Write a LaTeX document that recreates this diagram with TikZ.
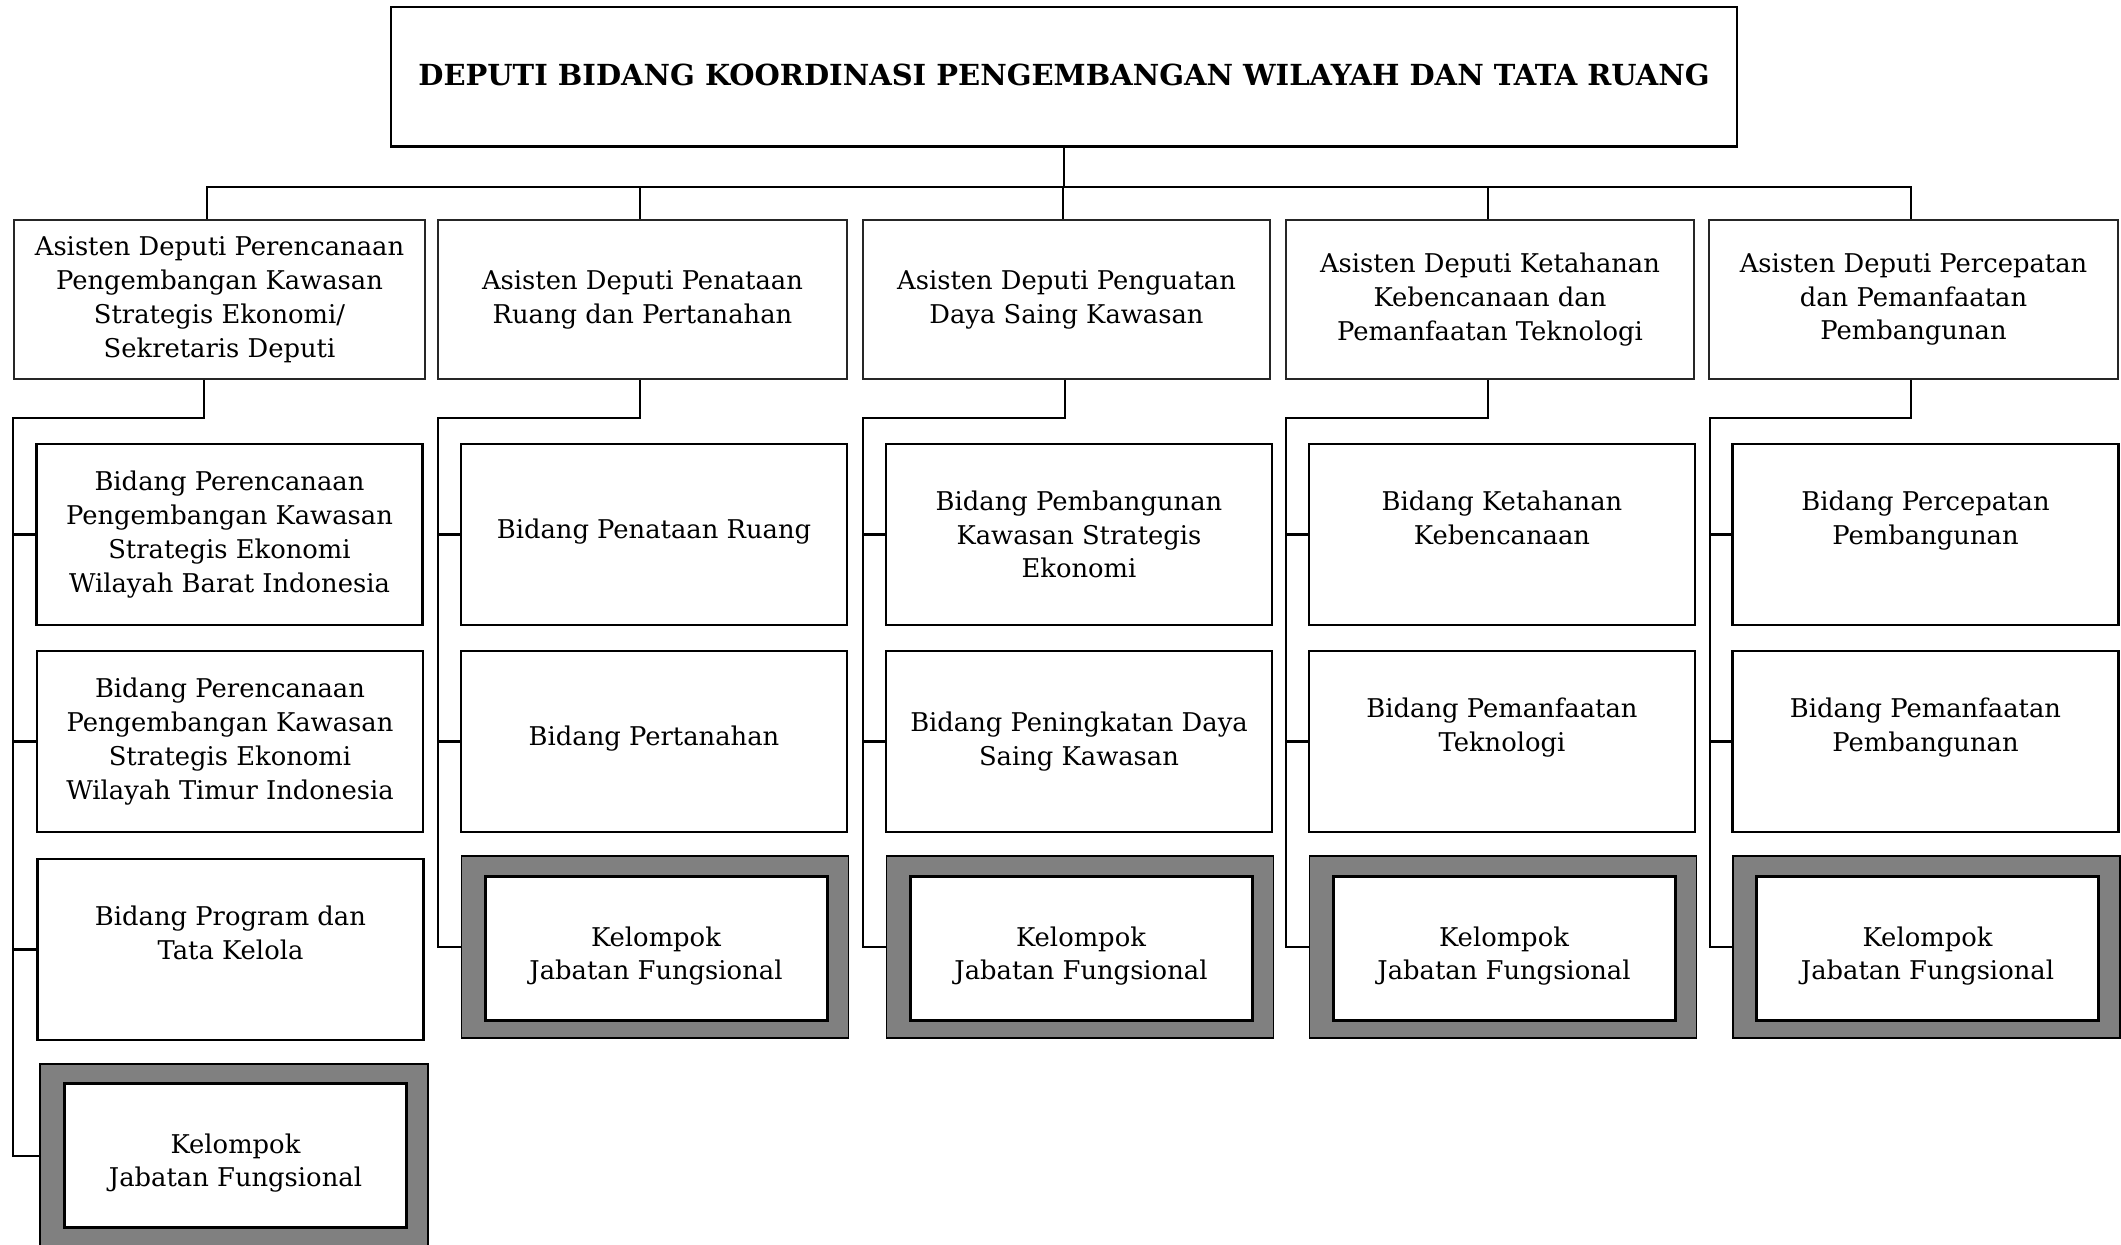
\documentclass[tikz,border=0pt]{standalone}
\usepackage{fontspec}
\setmainfont{DejaVu Serif}
\begin{document}
\begin{tikzpicture}[x=0.5pt,y=-0.5pt,
  conn/.style={line width=1.1pt},
  txt/.style={align=center, inner sep=0pt, font=\fontsize{12.9}{16.9}\selectfont},
  titlebox/.style={draw, line width=0.6pt, inner sep=0pt, minimum width=673pt, minimum height=69.5pt,
     font=\fontsize{14.5}{16}\selectfont\bfseries},
  asbox/.style={txt, draw=black!85, line width=0.8pt, minimum height=79.5pt},
  bdbox/.style={txt, draw, line width=1.4pt, minimum height=90.5pt, minimum width=193pt},
  kout/.style={draw, line width=0.8pt, fill=black!50, minimum height=91pt, minimum width=193.5pt},
  kin/.style={draw, fill=white, line width=1.5pt, minimum height=72pt, minimum width=171pt}
]
\useasboundingbox (0,0) rectangle (2121,1244);

% title
\node[titlebox] (top) at (1064,76.5) {\raisebox{2pt}{DEPUTI BIDANG KOORDINASI PENGEMBANGAN WILAYAH DAN TATA RUANG}};
\draw[line width=1.6pt] (top.south west) -- (top.south east);

% asisten deputi
\node[asbox, minimum width=205.5pt] (a1) at (219.5,299.5) {Asisten Deputi Perencanaan\\Pengembangan Kawasan\\Strategis Ekonomi/\\Sekretaris Deputi};
\node[asbox, minimum width=204.5pt] (a2) at (642.5,299.5) {Asisten Deputi Penataan\\Ruang dan Pertanahan};
\node[asbox, minimum width=203.5pt] (a3) at (1066.5,299.5) {Asisten Deputi Penguatan\\Daya Saing Kawasan};
\node[asbox, minimum width=204pt] (a4) at (1490,299.5) {Asisten Deputi Ketahanan\\Kebencanaan dan\\Pemanfaatan Teknologi};
\node[asbox, minimum width=204.5pt] (a5) at (1913.5,299.5) {Asisten Deputi Percepatan\\dan Pemanfaatan\\Pembangunan};

% column 1
\node[bdbox] (b11) at (229.5,534.5) {Bidang Perencanaan\\Pengembangan Kawasan\\Strategis Ekonomi\\Wilayah Barat Indonesia};
\node[bdbox] (b12) at (230,741.5) {Bidang Perencanaan\\Pengembangan Kawasan\\Strategis Ekonomi\\Wilayah Timur Indonesia};
\node[bdbox] (b13) at (230.5,949.5) {Bidang Program dan\\Tata Kelola\\\mbox{}};
\node[kout, minimum width=194pt, minimum height=92pt] (k1o) at (234,1156) {};
\node[kin] (k1) at (235.5,1155) {};
\node[txt] (k1t) at ([yshift=-4pt]k1.center) {Kelompok\\Jabatan Fungsional};

% column 2
\node[bdbox] (b21) at (654,534.5) {Bidang Penataan Ruang\\[-11.5pt]\mbox{}};
\node[bdbox] (b22) at (654,741.5) {Bidang Pertanahan\\[-11.5pt]\mbox{}};
\node[kout] (k2o) at (655,947) {};
\node[kin] (k2) at (656,948) {};
\node[txt] (k2t) at ([yshift=-4pt]k2.center) {Kelompok\\Jabatan Fungsional};

% column 3
\node[bdbox] (b31) at (1079,534.5) {Bidang Pembangunan\\Kawasan Strategis\\Ekonomi};
\node[bdbox] (b32) at (1079,741.5) {Bidang Peningkatan Daya\\Saing Kawasan};
\node[kout] (k3o) at (1080,947) {};
\node[kin] (k3) at (1081,948) {};
\node[txt] (k3t) at ([yshift=-4pt]k3.center) {Kelompok\\Jabatan Fungsional};

% column 4
\node[bdbox] (b41) at (1502,534.5) {Bidang Ketahanan\\Kebencanaan\\\mbox{}};
\node[bdbox] (b42) at (1502,741.5) {Bidang Pemanfaatan\\Teknologi\\\mbox{}};
\node[kout] (k4o) at (1503,947) {};
\node[kin] (k4) at (1504,948) {};
\node[txt] (k4t) at ([yshift=-4pt]k4.center) {Kelompok\\Jabatan Fungsional};

% column 5
\node[bdbox] (b51) at (1925.5,534.5) {Bidang Percepatan\\Pembangunan\\\mbox{}};
\node[bdbox] (b52) at (1925.5,741.5) {Bidang Pemanfaatan\\Pembangunan\\\mbox{}};
\node[kout] (k5o) at (1926.5,947) {};
\node[kin] (k5) at (1927.5,948) {};
\node[txt] (k5t) at ([yshift=-4pt]k5.center) {Kelompok\\Jabatan Fungsional};

% bus coordinates
\coordinate (s1) at (207,187);
\coordinate (s2) at (640,187);
\coordinate (s3) at (1063,187);
\coordinate (s4) at (1488,187);
\coordinate (s5) at (1911,187);

\draw[conn] (top.south) -- (top.south |- s3);
\draw[conn] (a1.north -| s1) -- (s1) -- (s5) -- (a5.north -| s5);
\draw[conn] (s2) -- (a2.north -| s2);
\draw[conn] (s3) -- (a3.north -| s3);
\draw[conn] (s4) -- (a4.north -| s4);

% column trunks
\coordinate (e1) at (204,418);  \coordinate (v1) at (13,418);
\coordinate (e2) at (640,418);  \coordinate (v2) at (438,418);
\coordinate (e3) at (1065,418); \coordinate (v3) at (863,418);
\coordinate (e4) at (1488,418); \coordinate (v4) at (1286,418);
\coordinate (e5) at (1911,418); \coordinate (v5) at (1710,418);

\draw[conn] (a1.south -| e1) -- (e1) -- (v1) -- (v1 |- k1o.west) -- (k1o.west);
\draw[conn] (v1 |- b11.west) -- (b11.west);
\draw[conn] (v1 |- b12.west) -- (b12.west);
\draw[conn] (v1 |- b13.west) -- (b13.west);

\draw[conn] (a2.south -| e2) -- (e2) -- (v2) -- (v2 |- k2o.west) -- (k2o.west);
\draw[conn] (v2 |- b21.west) -- (b21.west);
\draw[conn] (v2 |- b22.west) -- (b22.west);

\draw[conn] (a3.south -| e3) -- (e3) -- (v3) -- (v3 |- k3o.west) -- (k3o.west);
\draw[conn] (v3 |- b31.west) -- (b31.west);
\draw[conn] (v3 |- b32.west) -- (b32.west);

\draw[conn] (a4.south -| e4) -- (e4) -- (v4) -- (v4 |- k4o.west) -- (k4o.west);
\draw[conn] (v4 |- b41.west) -- (b41.west);
\draw[conn] (v4 |- b42.west) -- (b42.west);

\draw[conn] (a5.south -| e5) -- (e5) -- (v5) -- (v5 |- k5o.west) -- (k5o.west);
\draw[conn] (v5 |- b51.west) -- (b51.west);
\draw[conn] (v5 |- b52.west) -- (b52.west);
\end{tikzpicture}
\end{document}
